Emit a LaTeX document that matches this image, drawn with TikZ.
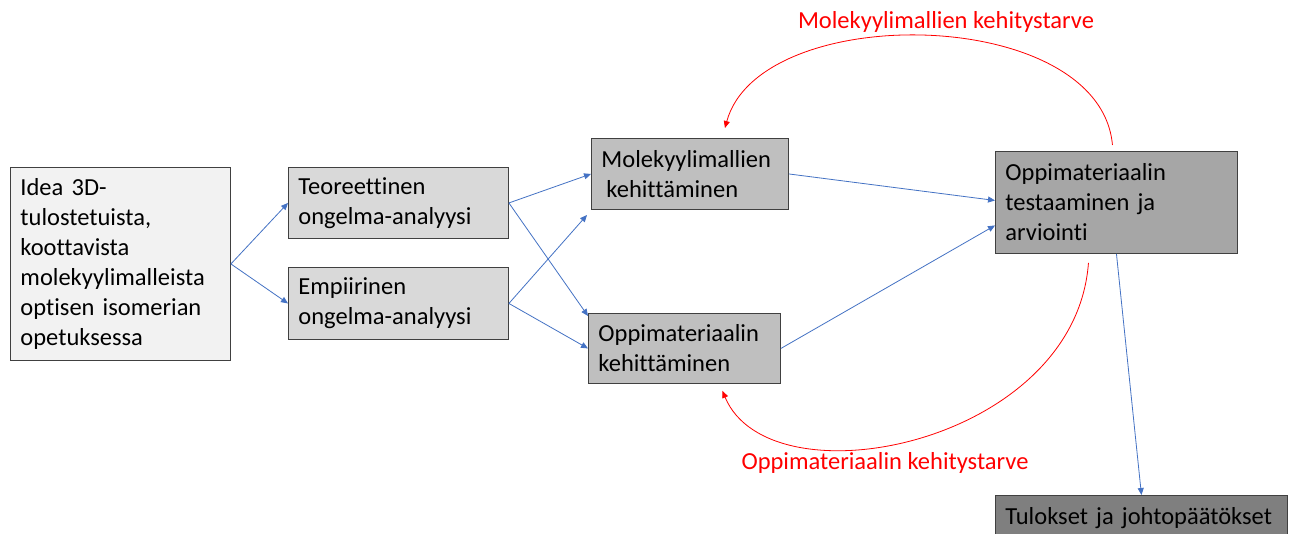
\documentclass[tikz,border=0pt]{standalone}
\usepackage{fontspec}
\setmainfont{Carlito}[Ligatures=NoCommon]
\usetikzlibrary{arrows.meta}
\definecolor{eblue}{HTML}{4472C4}
\definecolor{ered}{HTML}{FF0000}
\definecolor{f1}{HTML}{F2F2F2}
\definecolor{f2}{HTML}{D9D9D9}
\definecolor{f3}{HTML}{BFBFBF}
\definecolor{f4}{HTML}{A6A6A6}
\definecolor{f5}{HTML}{7F7F7F}
\tikzset{
  box/.style={draw=black!75, line width=0.9pt, anchor=north west, align=left,
    inner xsep=10pt, inner ysep=0pt, font=\fontsize{24.5}{30}\selectfont},
  conn/.style={draw=eblue, line width=0.8pt, -{Triangle[width=6pt,length=7pt]}},
  need/.style={draw=ered, line width=0.8pt, -{Triangle[width=6pt,length=7pt]}},
  lbl/.style={text=ered, font=\fontsize{24.5}{30}\selectfont, inner sep=0pt}
}
\begin{document}
\begin{tikzpicture}[x=1pt,y=-1pt]
\useasboundingbox[fill=white] (0,0) rectangle (1295,533);
\node[box, fill=f1, text width=200pt, minimum height=193pt] (idea) at (10,167)
  {Idea 3D-\\tulostetuista,\\koottavista\\molekyylimalleista\\optisen isomerian\\opetuksessa};
\node[box, fill=f2, text width=200pt, minimum height=71pt] (teo) at (288,167)
  {Teoreettinen\\ongelma-analyysi};
\node[box, fill=f2, text width=200pt, minimum height=72pt] (emp) at (288,267)
  {Empiirinen\\ongelma-analyysi};
\node[box, fill=f3, text width=177pt, minimum height=71pt] (mol) at (591,138)
  {Molekyylimallien\\\hspace*{5pt}kehittäminen};
\node[box, fill=f3, text width=172pt, minimum height=70pt] (opp) at (588,313)
  {Oppimateriaalin\\kehittäminen};
\node[box, fill=f4, text width=222pt, minimum height=102pt] (test) at (995,151)
  {Oppimateriaalin\\testaaminen ja\\arviointi};
\node[box, fill=f5, text width=272pt, minimum height=46pt] (tul) at (995,495)
  {Tulokset ja johtopäätökset};
\coordinate (empend) at (587,215);

\draw[conn] (idea.east) -- (teo.west);
\draw[conn] (idea.east) -- (emp.west);
\draw[conn] (teo.east) -- (mol.west);
\draw[conn] (teo.east) -- ([yshift=-3pt]opp.north west);
\draw[conn] (emp.east) -- (empend);
\draw[conn] (emp.east) -- (opp.west);
\draw[conn] (mol.east) -- ([yshift=2pt]test.west);
\draw[conn] (opp.east) -- ([yshift=-23pt]test.west);
\draw[conn] (test.south) -- (tul.north);

\draw[need] ([xshift=-4pt,yshift=6pt]test.north) .. controls (1100,5) and (760,0) .. ([xshift=35pt,yshift=10pt]mol.north);
\draw[need] ([xshift=-28pt,yshift=-9pt]test.south) .. controls (1075,445) and (770,505) .. ([xshift=38pt,yshift=-7pt]opp.south);

\node[lbl] (l1) at (946,22) {Molekyylimallien kehitystarve};
\node[lbl] (l2) at (885,463) {Oppimateriaalin kehitystarve};
\end{tikzpicture}
\end{document}
